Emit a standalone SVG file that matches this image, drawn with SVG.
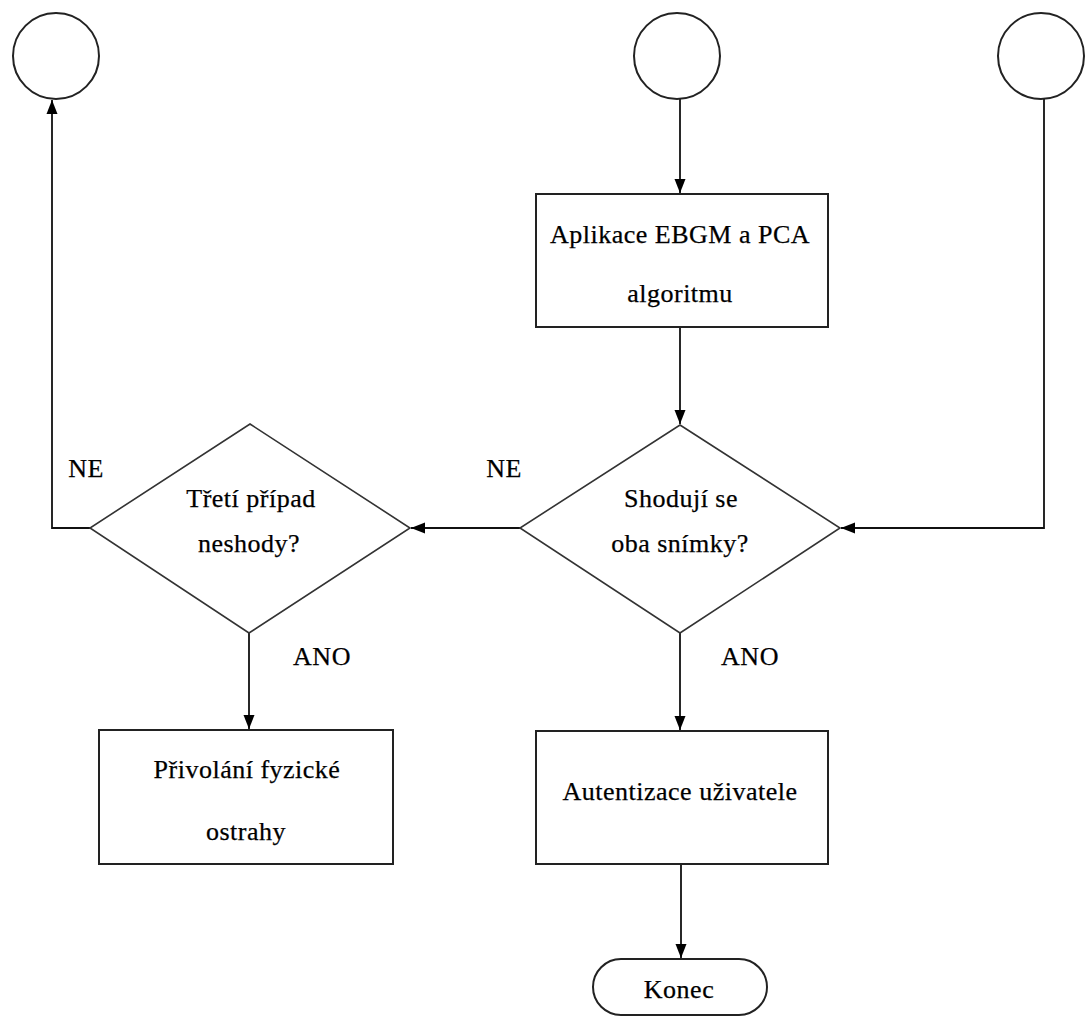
<svg xmlns="http://www.w3.org/2000/svg" width="1085" height="1017" viewBox="0 0 1085 1017">
  <style>
    .shape { fill: #ffffff; stroke: #222222; stroke-width: 2; }
    .diamond { fill: #ffffff; stroke: #333333; stroke-width: 1.6; }
    .conn { fill: none; stroke: #111111; stroke-width: 1.8; }
    .lbl { font-family: 'Liberation Serif', 'Times New Roman', Times, 'DejaVu Serif', serif; font-size: 26px; letter-spacing: 0.5px; fill: #000000; text-anchor: middle; stroke: #000000; stroke-width: 0.25; }
  </style>
  <defs>
    <marker id="arrow" markerUnits="userSpaceOnUse" markerWidth="14" markerHeight="14" viewBox="0 0 14 14" refX="14" refY="7" orient="auto">
      <path d="M0,1.5 L14,7 L0,12.5 Z" fill="#000000"/>
    </marker>
  </defs>
  <rect width="1085" height="1017" fill="#ffffff"/>

  <!-- connectors -->
  <g id="connectors">
    <path class="conn" d="M680,99 V193" marker-end="url(#arrow)"/>
    <path class="conn" d="M680,327 V424" marker-end="url(#arrow)"/>
    <path class="conn" d="M1044,99 V528 H841" marker-end="url(#arrow)"/>
    <path class="conn" d="M520,528 H411" marker-end="url(#arrow)"/>
    <path class="conn" d="M90,528 H52 V100" marker-end="url(#arrow)"/>
    <path class="conn" d="M249,633 V729" marker-end="url(#arrow)"/>
    <path class="conn" d="M680,633 V730" marker-end="url(#arrow)"/>
    <path class="conn" d="M681,864 V958" marker-end="url(#arrow)"/>
  </g>

  <!-- connector labels -->
  <g id="labels">
    <text class="lbl" x="86" y="477">NE</text>
    <text class="lbl" x="504" y="477">NE</text>
    <text class="lbl" x="322" y="665">ANO</text>
    <text class="lbl" x="750" y="665">ANO</text>
  </g>

  <!-- connector circles -->
  <g id="circle-left"><circle class="shape" cx="56" cy="56" r="43"/></g>
  <g id="circle-mid"><circle class="shape" cx="677" cy="56" r="43"/></g>
  <g id="circle-right"><circle class="shape" cx="1041" cy="56" r="43"/></g>

  <!-- process: recognition algorithm -->
  <g id="box-algorithm">
    <rect class="shape" x="536" y="194" width="292" height="133"/>
    <text class="lbl" x="680" y="243">Aplikace EBGM a PCA</text>
    <text class="lbl" x="680" y="302">algoritmu</text>
  </g>

  <!-- decision: images match -->
  <g id="decision-match">
    <polygon class="diamond" points="680,425 840,528 680,633 520,528"/>
    <text class="lbl" x="681" y="507">Shodují se</text>
    <text class="lbl" x="680" y="552">oba snímky?</text>
  </g>

  <!-- decision: third mismatch -->
  <g id="decision-third">
    <polygon class="diamond" points="250,424 410,528 249,633 90,528"/>
    <text class="lbl" x="251" y="507">Třetí případ</text>
    <text class="lbl" x="249" y="552">neshody?</text>
  </g>

  <!-- process: call security -->
  <g id="box-security">
    <rect class="shape" x="99" y="730" width="294" height="134"/>
    <text class="lbl" x="247" y="778">Přivolání fyzické</text>
    <text class="lbl" x="246" y="840">ostrahy</text>
  </g>

  <!-- process: user authenticated -->
  <g id="box-auth">
    <rect class="shape" x="536" y="731" width="292" height="133"/>
    <text class="lbl" x="680" y="800">Autentizace uživatele</text>
  </g>

  <!-- terminator -->
  <g id="end">
    <rect class="shape" x="593" y="959" width="174" height="56" rx="28" ry="28"/>
    <text class="lbl" x="679" y="998">Konec</text>
  </g>
</svg>
